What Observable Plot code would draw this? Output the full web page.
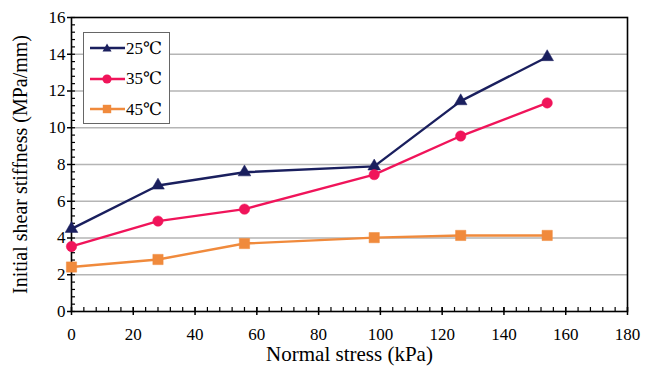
<!DOCTYPE html>
<html>
<head>
<meta charset="utf-8">
<script src="https://cdn.jsdelivr.net/npm/d3@7"></script>
<script src="https://cdn.jsdelivr.net/npm/@observablehq/plot@0.6"></script>
<style>
  html, body { margin: 0; padding: 0; background: white; }
  #wrap { position: relative; width: 647px; height: 371px; font-family: "Liberation Serif", "Times New Roman", Times, "DejaVu Serif", serif; }
  #wrap svg text { font-family: "Liberation Serif", "Times New Roman", Times, "DejaVu Serif", serif; }
  #legend { position: absolute; left: 83px; top: 32px; width: 87px; height: 92px; border: 1px solid #666; background: white; box-sizing: border-box; }
  .item { position: absolute; left: 5px; height: 20px; display: flex; align-items: center; font-size: 17px; }
  .item svg { display: block; }
</style>
</head>
<body>
<div id="wrap"></div>
<script>
const stress = [0, 28, 56, 98, 126, 154];
const t25 = [4.5, 6.86, 7.58, 7.9, 11.45, 13.85];
const t35 = [3.54, 4.92, 5.57, 7.45, 9.55, 11.35];
const t45 = [2.42, 2.83, 3.7, 4.02, 4.14, 4.14];
const seriesNames = ["25℃", "35℃", "45℃"];
const seriesColors = ["#1a1f5e", "#f0145a", "#f08a3c"];
const seriesSymbols = ["triangle", "circle", "square"];
const xMajor = [0, 20, 40, 60, 80, 100, 120, 140, 160, 180];
const yMajor = [0, 2, 4, 6, 8, 10, 12, 14, 16];
const gridVals = [2, 4, 6, 8, 10, 12, 14];
const xMinor = d3.range(0, 181, 4);
const yMinor = d3.range(0, 16.01, 0.4).map(v => +v.toFixed(1));
const xLabel = "Normal stress (kPa)";
const yLabel = "Initial shear stiffness (MPa/mm)";

const allSeries = [t25, t35, t45];
const rows = [];
allSeries.forEach((vals, i) => vals.forEach((v, j) => rows.push({s: seriesNames[i], x: stress[j], y: v})));

const marks = [
  Plot.gridY(gridVals, {stroke: "#b5b5b5", strokeOpacity: 1, strokeWidth: 1.5}),
  Plot.axisX(xMinor, {tickSize: -4, text: null, strokeWidth: 1.2, label: null}),
  Plot.axisY(yMinor, {tickSize: -4, text: null, strokeWidth: 1.2, label: null}),
  Plot.axisX(xMajor, {tickSize: 4, tickPadding: 12, fontSize: 17, strokeWidth: 1.5, label: null}),
  Plot.axisX(xMajor, {tickSize: -4, text: null, strokeWidth: 1.5, label: null}),
  Plot.axisY(yMajor, {tickSize: 4, tickPadding: 2, fontSize: 17, strokeWidth: 1.5, label: null}),
  Plot.frame({stroke: "black", strokeWidth: 1.6}),
  Plot.text([xLabel], {frameAnchor: "bottom", lineAnchor: "middle", dy: 43, fontSize: 21, textAnchor: "middle"}),
  Plot.text([yLabel], {frameAnchor: "left", dx: -51, rotate: -90, fontSize: 20, textAnchor: "middle"})
];
const radii = [4.7, 5.2, 5.8];
seriesNames.forEach((name, i) => {
  const data = rows.filter(d => d.s === name);
  marks.push(Plot.line(data, {x: "x", y: "y", stroke: seriesColors[i], strokeWidth: 2.4}));
  marks.push(Plot.dot(data, {x: "x", y: "y", fill: seriesColors[i], stroke: seriesColors[i], strokeWidth: 0.5,
    symbol: seriesSymbols[i], r: radii[i]}));
});

const chart = Plot.plot({
  width: 647, height: 371,
  marginLeft: 71, marginRight: 20, marginTop: 17, marginBottom: 60,
  style: {fontFamily: "'Liberation Serif', 'Times New Roman', Times, 'DejaVu Serif', serif", fontSize: "17px", color: "black", background: "white", overflow: "visible"},
  x: {domain: [0, 180]},
  y: {domain: [0, 16]},
  marks
});
const wrap = document.getElementById("wrap");
wrap.appendChild(chart);

// legend
const legend = document.createElement("div");
legend.id = "legend";
const symbolPaths = {
  triangle: '<path d="M18,3.5 L22.5,11.5 L13.5,11.5 Z" />',
  circle: '<circle cx="18" cy="8" r="4.6" />',
  square: '<rect x="13.8" y="3.8" width="8.4" height="8.4" />'
};
seriesNames.forEach((name, i) => {
  const it = document.createElement("div");
  it.className = "item";
  it.style.top = (5 + i * 30.5) + "px";
  it.innerHTML = `<svg width="37" height="16"><line x1="1" y1="8" x2="36" y2="8" stroke="${seriesColors[i]}" stroke-width="2.4"/><g fill="${seriesColors[i]}">${symbolPaths[seriesSymbols[i]]}</g></svg><span>${name}</span>`;
  legend.appendChild(it);
});
wrap.appendChild(legend);
</script>
</body>
</html>
